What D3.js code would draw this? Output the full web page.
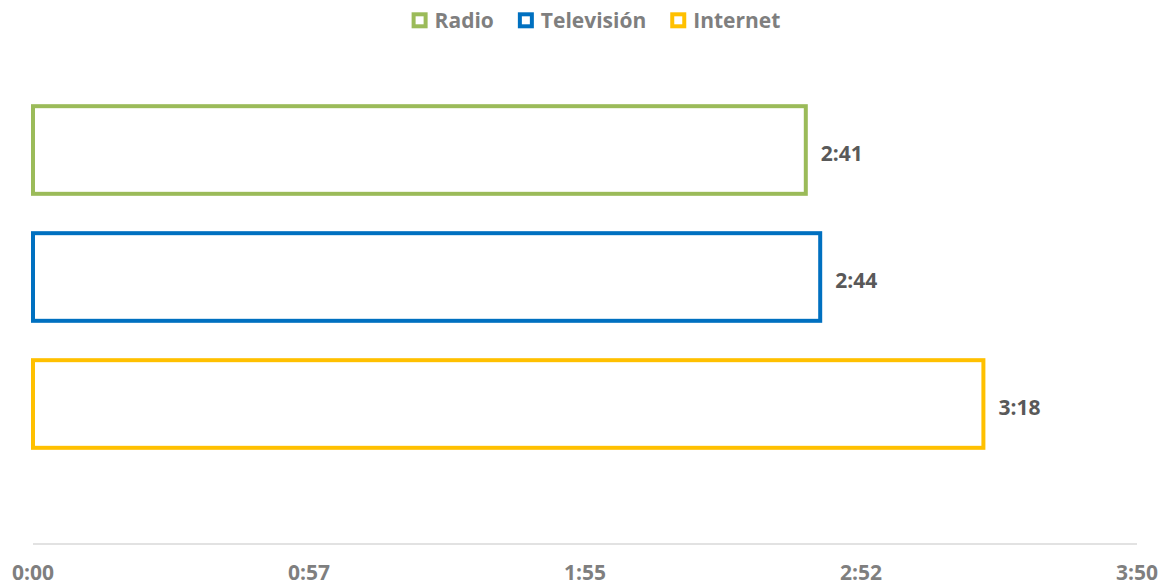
<!DOCTYPE html>
<html>
<head>
<meta charset="utf-8">
<script src="https://cdn.jsdelivr.net/npm/d3@7"></script>
<style>
    html, body { margin: 0; padding: 0; background: #fff; }
    svg { display: block; font-family: "Open Sans", sans-serif; }
</style>
</head>
<body>
<div id="chart"></div>
<script>
// chart data: minutes per medium
const categories = ['Radio', 'Televisión', 'Internet'];
const minutes = [161, 164, 198];
const colors = ['#9BBB59', '#0070C0', '#FFC000'];
const tickValues = [0, 57.5, 115, 172.5, 230];

const WIDTH = 1162;
const HEIGHT = 586;

const fmt = v => {
    const m = Math.floor(v / 60);
    const s = Math.floor(v % 60);
    return `${m}:${String(s).padStart(2, '0')}`;
};

const svg = d3.select('#chart')
    .append('svg')
    .attr('width', WIDTH)
    .attr('height', HEIGHT);

const x = d3.scaleLinear()
    .domain([0, 230])
    .range([33, 1137]);

const y = d3.scaleBand()
    .domain(categories)
    .range([86.5, 467.5])
    .paddingInner(0.31)
    .paddingOuter(0.155);

// axis line + tick labels
const axisY = 544;
svg.append('line')
    .attr('x1', x.range()[0]).attr('x2', x.range()[1])
    .attr('y1', axisY).attr('y2', axisY)
    .attr('stroke', '#d9d9d9')
    .attr('stroke-width', 1.5);

svg.append('g')
    .selectAll('text')
    .data(tickValues)
    .join('text')
    .attr('x', d => x(d))
    .attr('y', 580)
    .attr('text-anchor', 'middle')
    .attr('font-size', 21)
    .attr('font-weight', 'bold')
    .attr('fill', '#7f7f7f')
    .text(fmt);

// bars (outline only)
const rows = categories.map((c, i) => ({ c, v: minutes[i], color: colors[i] }));

svg.append('g')
    .selectAll('rect')
    .data(rows)
    .join('rect')
    .attr('x', x(0))
    .attr('y', d => y(d.c))
    .attr('width', d => x(d.v) - x(0))
    .attr('height', y.bandwidth())
    .attr('fill', '#fff')
    .attr('stroke', d => d.color)
    .attr('stroke-width', 4);

svg.append('g')
    .selectAll('text')
    .data(rows)
    .join('text')
    .attr('x', d => x(d.v) + 15)
    .attr('y', d => y(d.c) + y.bandwidth() / 2 + 11)
    .attr('font-size', 21)
    .attr('font-weight', 'bold')
    .attr('fill', '#595959')
    .text(d => fmt(d.v));

// legend, centred above the plot
const legend = svg.append('g');
const GAP = 24;
let lx = 0;
rows.forEach(d => {
    const item = legend.append('g').attr('transform', `translate(${lx},0)`);
    item.append('rect')
        .attr('x', 2).attr('y', 14.3)
        .attr('width', 12).attr('height', 12)
        .attr('fill', '#fff')
        .attr('stroke', d.color)
        .attr('stroke-width', 4);
    const t = item.append('text')
        .attr('x', 23)
        .attr('y', 28.3)
        .attr('font-size', 21)
        .attr('font-weight', 'bold')
        .attr('fill', '#7f7f7f')
        .text(d.c);
    lx += 23 + t.node().getComputedTextLength() + GAP;
});
const legendWidth = lx - GAP;
legend.attr('transform', `translate(${596 - legendWidth / 2},0)`);
</script>
</body>
</html>
